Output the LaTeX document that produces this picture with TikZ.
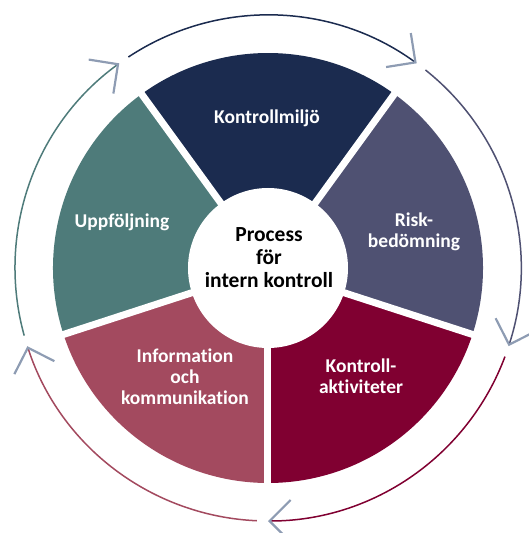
\documentclass[tikz,border=0pt]{standalone}
\usepackage{fontspec}
\setmainfont{Carlito}[Ligatures=CommonOff]
\usetikzlibrary{arrows.meta}
\definecolor{ctrlEnv}{HTML}{1B2B4F}
\definecolor{ctrlRisk}{HTML}{4F5172}
\definecolor{ctrlAct}{HTML}{800031}
\definecolor{ctrlInfo}{HTML}{A34A5F}
\definecolor{ctrlFollow}{HTML}{4E7B7A}
\definecolor{ctrlArrow}{HTML}{8E9CB3}

\begin{document}
\begin{tikzpicture}[x=1pt,y=1pt,
    seglabel/.style={text=white, font=\bfseries\fontsize{19.5}{21}\selectfont, align=center},
    cyclearrow/.style={line width=1.5pt, -{Straight Barb[color=ctrlArrow, length=21pt, width=42pt, line width=2.2pt]}}]
\useasboundingbox (-268,-265) rectangle (261,268);
\foreach \a/\col in {54/ctrlEnv, -18/ctrlRisk, -90/ctrlAct, 198/ctrlInfo, 126/ctrlFollow}{
    \fill[\col] (0,0) -- (\a:215) arc[start angle=\a, end angle=\a+72, radius=215] -- cycle;
    \draw[cyclearrow, \col] (\a+69.5:253) arc[start angle=\a+69.5, end angle=\a, radius=253];
}
\foreach \a in {54,126,198,270,342}
    \draw[white, line width=7pt] (0,0) -- (\a:222);
\fill[white] (0,0) circle[radius=80];
\node[seglabel] (env) at (-1,150) {Kontrollmiljö};
\node[seglabel] (risk) at (146,36) {Risk-\\bedömning};
\node[seglabel] (act) at (93,-108) {Kontroll-\\aktiviteter};
\node[seglabel] (info) at (-83,-109) {Information\\och\\kommunikation};
\node[seglabel] (follow) at (-146,46) {Uppföljning};
\node[font=\bfseries\fontsize{21.5}{23}\selectfont, align=center] (core) at (1,10) {Process\\för\\intern kontroll};
\end{tikzpicture}
\end{document}
